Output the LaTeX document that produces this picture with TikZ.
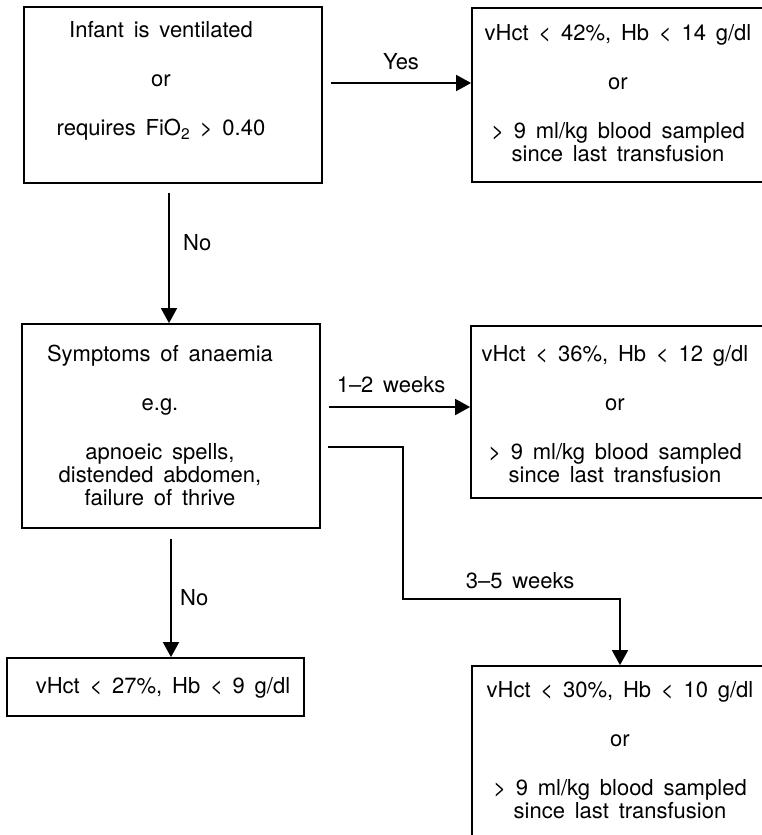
\documentclass[tikz,border=0pt]{standalone}
\usepackage{fontspec}
\setmainfont{TeX Gyre Heros}[WordSpace=1.6]
\usetikzlibrary{arrows.meta}

\begin{document}
\begin{tikzpicture}[x=1pt,y=-1pt,line width=1.8pt,
    >={Triangle[length=15pt,width=16pt]},
    font=\fontsize{22}{23}\selectfont]

      \useasboundingbox (0,0) rectangle (762,835);
      \clip (0,0) rectangle (762,835);

      \begin{scope}[every node/.style={draw,rectangle,inner sep=0pt}]
        \node[minimum width=298pt,minimum height=176pt] (vent) at (173,95) {};
        \node[minimum width=296pt,minimum height=174pt] (hi) at (620,95) {};
        \node[minimum width=298pt,minimum height=204pt] (sympt) at (171,426) {};
        \node[minimum width=298pt,minimum height=172pt] (mid) at (620,412) {};
        \node[minimum width=297pt,minimum height=58pt] (low27) at (155.5,687) {};
        \node[minimum width=296pt,minimum height=234pt] (low30) at (620,783) {};
      \end{scope}

      \begin{scope}[every node/.style={align=center,inner sep=0pt}]
        \node (venttxt) at (161,81) {Infant is ventilated\\[26pt] or\\[26pt] requires FiO\textsubscript{2} > 0.40};
        \node (hitxt) at (618,93) {vHct < 42\%, Hb < 14 g/dl\\[26pt] or\\[26pt] > 9 ml/kg blood sampled\\ since last transfusion};
        \node (sympttxt) at (160,425) {Symptoms of anaemia\\[26pt] e.g.\\[26pt] apnoeic spells,\\ distended abdomen,\\ failure of thrive};
        \node (midtxt) at (615,414) {vHct < 36\%, Hb < 12 g/dl\\[26pt] or\\[26pt] > 9 ml/kg blood sampled\\ since last transfusion};
        \node (low27txt) at (163,688) {vHct < 27\%, Hb < 9 g/dl};
        \node (low30txt) at (620,750) {vHct < 30\%, Hb < 10 g/dl\\[26pt] or\\[26pt] > 9 ml/kg blood sampled\\ since last transfusion};
      \end{scope}

      \draw[->] ([xshift=8pt,yshift=12pt]vent.east) -- node[above=9pt] (yes) {Yes} ([yshift=12pt]hi.west);
      \draw[->] ([xshift=-4pt,yshift=-9pt]vent.south) -- node[pos=0.38,right=10pt] (no1) {No} ([xshift=-2pt]sympt.north);
      \draw[->] ([xshift=8pt,yshift=19pt]sympt.east) -- node[pos=0.44,above=10pt] (wk12) {1--2 weeks} ([yshift=5pt]mid.west);
      \draw[->] ([xshift=7pt,yshift=-21pt]sympt.east) -- ++(75,0) -- ++(0,152)
        -| node[pos=0.27,above=6pt] (wk35) {3--5 weeks} (low30.north);
      \draw[->] ([yshift=-10pt]sympt.south) -- node[right=5pt] (no2) {No} (sympt.south |- low27.north);

    \end{tikzpicture}
\end{document}
